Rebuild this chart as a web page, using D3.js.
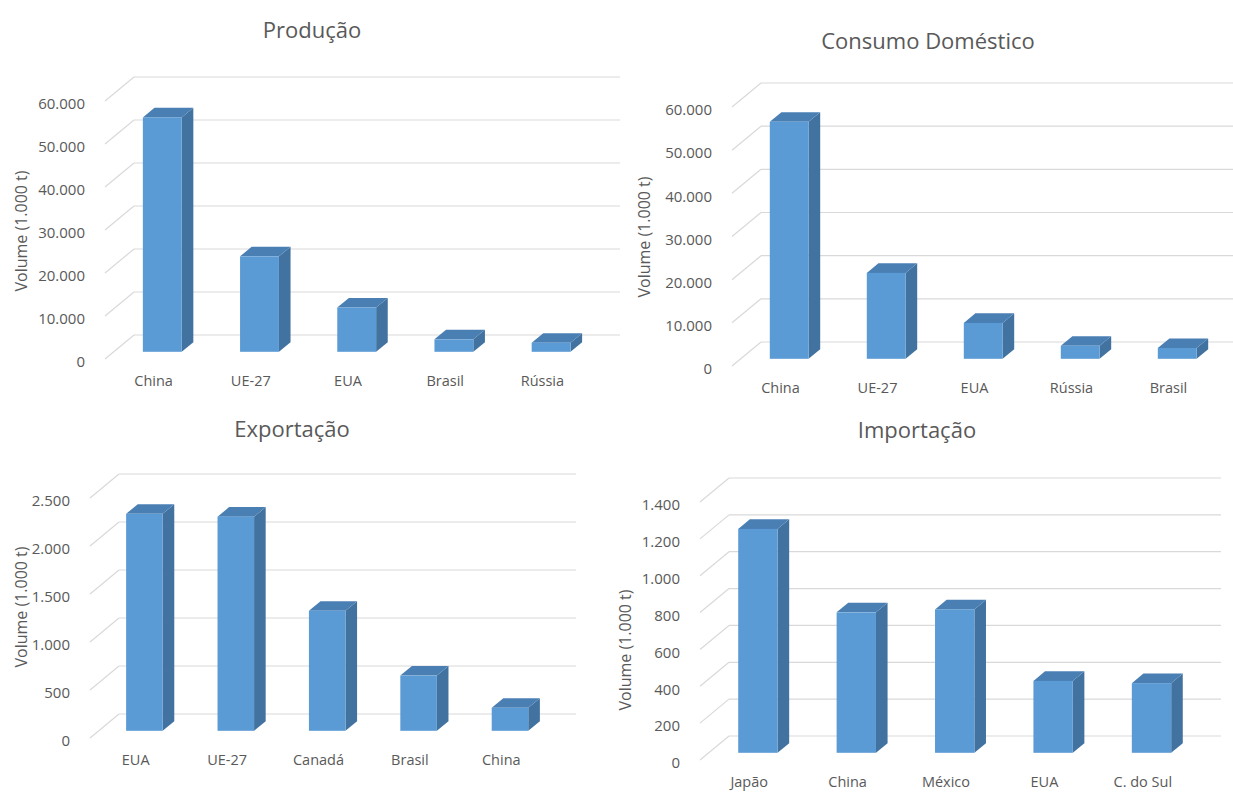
<!DOCTYPE html>
<html>
<head>
<meta charset="utf-8">
<script src="https://cdn.jsdelivr.net/npm/d3@7"></script>
<style>
  body { margin: 0; background: #fff; }
  svg text { font-family: "Open Sans", sans-serif; fill: #595959; }
</style>
</head>
<body>
<svg id="chart" width="1233" height="792"></svg>
<script>
// données (1.000 t)
var prodCats = ["China", "UE-27", "EUA", "Brasil", "Rússia"];
var prodValues = [54500, 22200, 10300, 2900, 2100];
var prodTicks = [0, 10000, 20000, 30000, 40000, 50000, 60000];

var consCats = ["China", "UE-27", "EUA", "Rússia", "Brasil"];
var consValues = [54900, 19900, 8300, 3000, 2500];
var consTicks = [0, 10000, 20000, 30000, 40000, 50000, 60000];

var expCats = ["EUA", "UE-27", "Canadá", "Brasil", "China"];
var expValues = [2260, 2230, 1250, 575, 240];
var expTicks = [0, 500, 1000, 1500, 2000, 2500];

var impCats = ["Japão", "China", "México", "EUA", "C. do Sul"];
var impValues = [1215, 762, 778, 390, 378];
var impTicks = [0, 200, 400, 600, 800, 1000, 1200, 1400];

var axisTitle = "Volume (1.000 t)";

var svg = d3.select("#chart");
var fmt = d3.formatLocale({decimal: ",", thousands: ".", grouping: [3], currency: ["R$", ""]}).format(",d");

// profondeur 3D : décalage du mur du fond vers le bord avant du sol
var ddx = -29, ddy = 24;
var barFront = 0.7, barBack = 0.3;
var cFront = "#5B9BD5", cTop = "#4A7FB4", cSide = "#42729F", cGrid = "#d9d9d9";

var panels = [
  {title: "Produção", cats: prodCats, values: prodValues, ticks: prodTicks,
   wallL: 134, wallR: 620, y0: 335, yTop: 77, titleX: 312, titleY: 38, axisX: 21, axisY: 231},
  {title: "Consumo Doméstico", cats: consCats, values: consValues, ticks: consTicks,
   wallL: 761, wallR: 1246, y0: 342, yTop: 83, titleX: 928, titleY: 49, axisX: 644, axisY: 237},
  {title: "Exportação", cats: expCats, values: expValues, ticks: expTicks,
   wallL: 119, wallR: 576, y0: 714, yTop: 474, titleX: 292, titleY: 437, axisX: 21, axisY: 607},
  {title: "Importação", cats: impCats, values: impValues, ticks: impTicks,
   wallL: 729, wallR: 1221, y0: 736, yTop: 478, titleX: 917, titleY: 438, axisX: 625, axisY: 650}
];

panels.forEach(function(p) {
  var g = svg.append("g").attr("class", "panel");
  var tmax = d3.max(p.ticks);

  var y = d3.scaleLinear().domain([0, tmax]).range([p.y0, p.yTop]);
  // bandes sur le bord avant du sol
  var x = d3.scaleBand().domain(p.cats)
    .range([p.wallL + ddx, p.wallR + ddx])
    .paddingInner(0.6).paddingOuter(0.3);

  // grille : mur du fond + mur latéral
  var grid = g.append("g").attr("class", "grid");
  grid.selectAll("line.back").data(p.ticks).enter().append("line")
    .attr("class", "back")
    .attr("x1", p.wallL).attr("x2", p.wallR)
    .attr("y1", function(d) { return y(d); }).attr("y2", function(d) { return y(d); })
    .attr("stroke", cGrid).attr("stroke-width", 1.2);
  grid.selectAll("line.side").data(p.ticks).enter().append("line")
    .attr("class", "side")
    .attr("x1", p.wallL).attr("x2", p.wallL + ddx)
    .attr("y1", function(d) { return y(d); }).attr("y2", function(d) { return y(d) + ddy; })
    .attr("stroke", cGrid).attr("stroke-width", 1.2);

  // étiquettes de graduation
  g.append("g").selectAll("text").data(p.ticks).enter().append("text")
    .attr("x", p.wallL + ddx - 20)
    .attr("y", function(d) { return y(d) + ddy + 3; })
    .attr("dy", "0.35em")
    .attr("text-anchor", "end")
    .style("font-size", "15px")
    .text(function(d) { return fmt(d); });

  // barres 3D
  var bw = x.bandwidth();
  var fx = -(1 - barFront) * ddx;                                   // sol avant -> face avant
  var kx = -(barFront - barBack) * ddx, ky = -(barFront - barBack) * ddy; // profondeur de la barre
  var yb = p.y0 + barFront * ddy;                                   // bas de la face avant
  var bars = g.append("g").selectAll("g").data(p.cats).enter().append("g");
  bars.each(function(c, i) {
    var b = d3.select(this);
    var x0 = x(c) + fx, x1 = x0 + bw;
    var h = y(0) - y(p.values[i]);
    var yt = yb - h;
    b.append("path")
      .attr("d", "M" + x1 + "," + yb + "L" + (x1 + kx) + "," + (yb + ky) + "L" + (x1 + kx) + "," + (yt + ky) + "L" + x1 + "," + yt + "Z")
      .attr("fill", cSide);
    b.append("path")
      .attr("d", "M" + x0 + "," + yt + "L" + (x0 + kx) + "," + (yt + ky) + "L" + (x1 + kx) + "," + (yt + ky) + "L" + x1 + "," + yt + "Z")
      .attr("fill", cTop);
    b.append("rect")
      .attr("x", x0).attr("y", yt).attr("width", bw).attr("height", h)
      .attr("fill", cFront);
  });

  // catégories
  g.append("g").selectAll("text").data(p.cats).enter().append("text")
    .attr("x", function(d) { return x(d) + bw / 2; })
    .attr("y", p.y0 + ddy + 22)
    .attr("dy", "0.35em")
    .attr("text-anchor", "middle")
    .style("font-size", "14.5px")
    .text(function(d) { return d; });

  // titres
  g.append("text")
    .attr("x", p.titleX).attr("y", p.titleY)
    .attr("text-anchor", "middle")
    .style("font-size", "22px")
    .text(p.title);

  g.append("text")
    .attr("transform", "translate(" + p.axisX + "," + p.axisY + ") rotate(-90)")
    .attr("text-anchor", "middle")
    .attr("dy", "0.35em")
    .style("font-size", "16px")
    .text(axisTitle);
});
</script>
</body>
</html>
